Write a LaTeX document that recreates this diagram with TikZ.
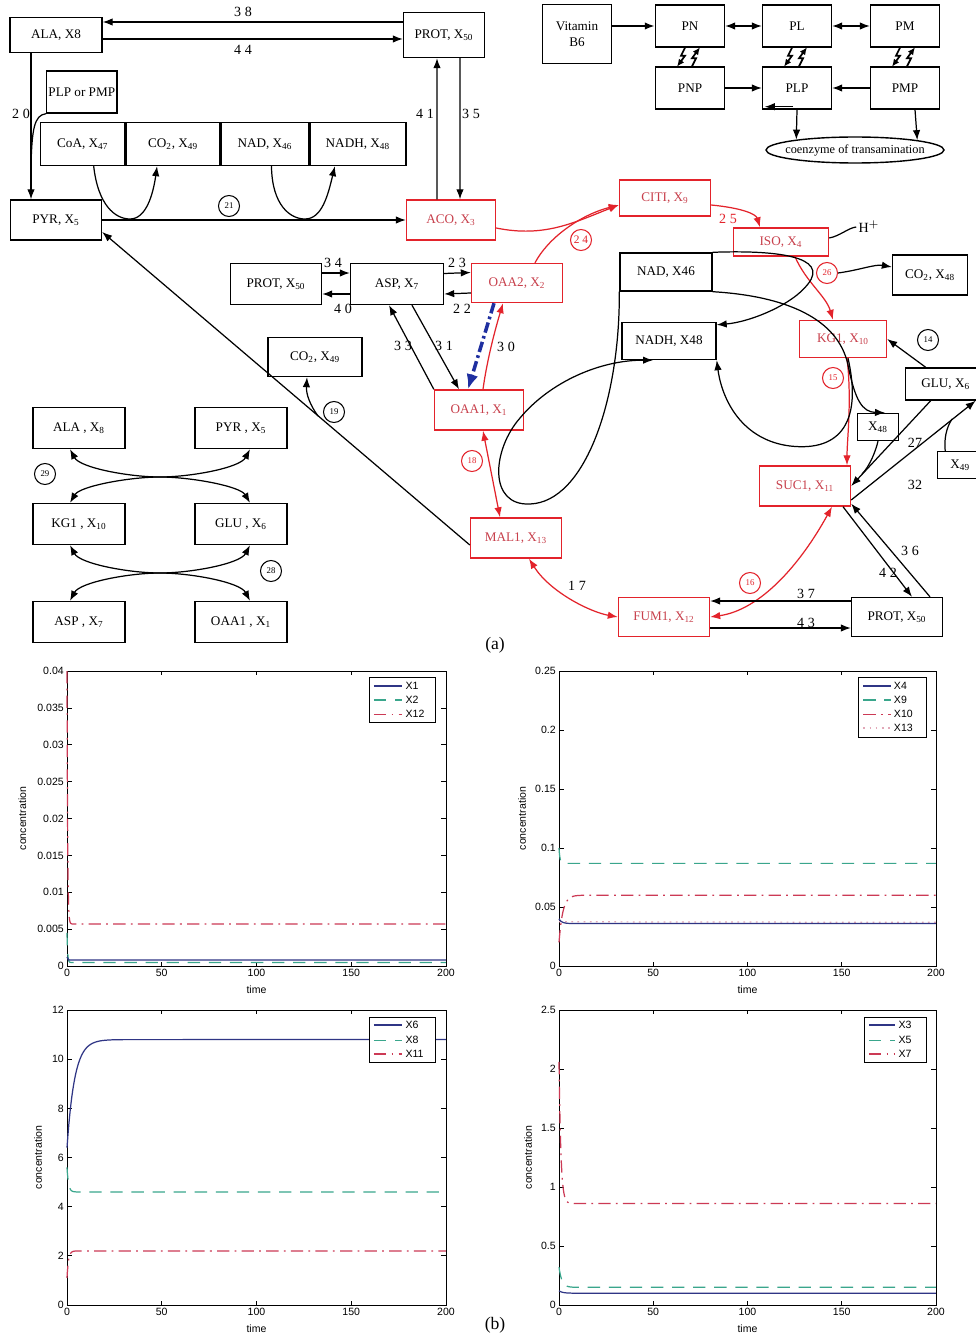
\documentclass[tikz,border=0pt]{standalone}
\usepackage{fontspec}
\setmainfont{Liberation Serif}
\setsansfont{Liberation Sans}
\usepackage{xcolor}
\usetikzlibrary{positioning, shapes.geometric, arrows.meta, calc}
\definecolor{rxn}{HTML}{E3232B}
\definecolor{rxntxt}{HTML}{C8404C}
\definecolor{flux}{HTML}{1F2FA0}
\definecolor{lnblue}{HTML}{2F3585}
\definecolor{lnteal}{HTML}{3AA68C}
\definecolor{lnred}{HTML}{CC3A55}
\definecolor{lnpink}{HTML}{E2A8B8}
\newcommand{\xs}[1]{X\textsubscript{#1}}

\tikzset{
  box/.style={draw, line width=0.8pt, minimum width=1.82cm, minimum height=0.8cm,
              inner sep=1pt, font=\fontsize{7.5}{9}\selectfont},
  rbox/.style={box, draw=rxn, text=rxntxt},
  arr/.style={-{Latex[length=2mm, width=1.5mm]}},
  darr/.style={{Latex[length=2mm, width=1.5mm]}-{Latex[length=2mm, width=1.5mm]}},
  rarr/.style={arr, draw=rxn},
  rdarr/.style={darr, draw=rxn},
  zap/.style={line width=1pt, -{Latex[length=1.5mm, width=1.3mm]}},
  lab/.style={font=\fontsize{8}{9}\selectfont, inner sep=1pt},
  rlab/.style={lab, text=rxn},
  cnum/.style={circle, draw, line width=0.6pt, inner sep=0pt, minimum size=0.42cm,
               font=\fontsize{5}{5}\selectfont},
  rcnum/.style={cnum, draw=rxn, text=rxn},
  ticklab/.style={font=\fontsize{6}{7}\sffamily, inner sep=1.5pt},
  sA/.style={lnblue, line width=0.7pt},
  sB/.style={lnteal, line width=0.7pt, dash pattern=on 7pt off 5pt},
  sC/.style={lnred, line width=0.7pt, dash pattern=on 7pt off 3pt on 1pt off 3pt},
  sD/.style={lnpink, line width=0.7pt, dash pattern=on 1pt off 2.5pt},
}

% frame of one time plot, #1 = y ticks as value/label
\newcommand{\axesframe}[1]{%
  \draw[line width=0.5pt] (0,0) rectangle (200,1);
  \foreach \t in {0,50,100,150,200} {
    \draw[line width=0.4pt] (\t,0) -- (\t,0.012) (\t,1) -- (\t,0.988);
    \node[ticklab, below] at (\t,0) {\t};
  }
  \foreach \v/\l in {#1} {
    \draw[line width=0.4pt] (0,\v) -- (2.5,\v) (200,\v) -- (197.5,\v);
    \node[ticklab, left] at (0,\v) {\l};
  }
}

\begin{document}
\begin{tikzpicture}[x=0.02cm, y=-0.02cm, line width=0.7pt]
  \useasboundingbox (0,0) rectangle (975,1338);
  \fill[white] (0,0) rectangle (975,1338);

  % ---------------- pyruvate / acetyl-CoA part
  \node[box, minimum width=1.84cm, minimum height=0.7cm] (ala) at (56,35) {ALA, X8};
  \node[box, minimum width=1.62cm, minimum height=0.9cm] (prot1) at (444,35) {PROT, \xs{50}};
  \node[box, minimum width=1.4cm, minimum height=0.84cm, anchor=west] (plp0) at (46,92) {PLP or PMP};
  \node[box, minimum width=1.68cm, minimum height=0.86cm, anchor=west] (coa) at (40,144) {CoA, \xs{47}};
  \node[box, minimum width=1.88cm, minimum height=0.86cm, right=0pt of coa] (co2a) {CO\textsubscript{2}, \xs{49}};
  \node[box, minimum width=1.74cm, minimum height=0.86cm, right=0pt of co2a] (nad1) {NAD, \xs{46}};
  \node[box, minimum width=1.92cm, minimum height=0.86cm, right=0pt of nad1] (nadh1) {NADH, \xs{48}};
  \node[box] (pyr1) at (56,220) {PYR, \xs{5}};
  \node[rbox, minimum width=1.78cm] (aco) at (451,220) {ACO, \xs{3}};

  \draw[arr] ([yshift=0.26cm]prot1.west) -- ([yshift=0.26cm]ala.east);
  \draw[arr] ([yshift=-0.08cm]ala.east) -- ([yshift=-0.08cm]prot1.west);
  \node[lab] at (243,12) {3 8};
  \node[lab] at (243,50) {4 4};

  \coordinate (j20) at (31,165);
  \draw[arr] ([xshift=-0.5cm]ala.south) -- ([xshift=-0.5cm]pyr1.north);
  \draw (plp0.south west) .. controls (34,115) and (32,130) .. (j20);
  \node[lab] at (21,114) {2 0};

  \draw[arr] (pyr1.east) -- (aco.west);
  \draw[arr] ([xshift=0.22cm]coa.south) .. controls (98,205) and (115,219) .. (130,219)
        .. controls (146,219) and (153,195) .. ([xshift=-0.32cm]co2a.south);
  \draw[arr] ([xshift=0.13cm]nad1.south) .. controls (272,205) and (290,219) .. (305,219)
        .. controls (322,219) and (328,195) .. ([xshift=-0.46cm]nadh1.south);
  \node[cnum, fill=white] (c21) at (229,206) {21};

  \draw[arr] ([xshift=-0.28cm]aco.north) -- ([xshift=-0.14cm]prot1.south);
  \draw[arr] ([xshift=0.32cm]prot1.south) -- ([xshift=0.18cm]aco.north);
  \node[lab] at (425,114) {4 1};
  \node[lab] at (471,114) {3 5};

  % ---------------- vitamin B6
  \node[box, minimum width=1.38cm, minimum height=1.18cm, align=center] (vitb) at (577,34) {Vitamin\\B6};
  \node[box, minimum width=1.38cm, minimum height=0.84cm] (pn) at (690,26) {PN};
  \node[box, minimum width=1.38cm, minimum height=0.84cm] (pl) at (797,26) {PL};
  \node[box, minimum width=1.38cm, minimum height=0.84cm] (pm) at (905,26) {PM};
  \node[box, minimum width=1.38cm, minimum height=0.84cm] (pnp) at (690,88) {PNP};
  \node[box, minimum width=1.38cm, minimum height=0.84cm] (plp) at (797,88) {PLP};
  \node[box, minimum width=1.38cm, minimum height=0.84cm] (pmp) at (905,88) {PMP};
  \node[draw, ellipse, line width=0.8pt, minimum width=3.56cm, minimum height=0.52cm,
        inner xsep=-0.6cm, inner ysep=0pt, font=\fontsize{7}{8}\selectfont] (coenz) at (855,150)
        {coenzyme of transamination};

  \draw[arr, line width=1.6pt] (vitb.east |- pn) -- (pn.west);
  \draw[darr] (pn) -- (pl);
  \draw[darr] (pl) -- (pm);
  \foreach \u/\d in {pn/pnp, pl/plp, pm/pmp} {
    \draw[zap] ([xshift=-0.1cm]\u.south) -- ++(-4,8) -- ++(4,0) -- ++(-8,11);
    \draw[zap] ([xshift=0.04cm]\d.north) -- ++(4,-8) -- ++(-4,0) -- ++(8,-11);
  }
  \draw[arr] (pnp) -- (plp);
  \draw[arr] (pmp) -- (plp);
  \draw[arr] ([xshift=-0.08cm, yshift=0.06cm]plp.south) -- ([xshift=0.06cm, yshift=0.06cm]plp.south west);
  \draw[arr] (plp.south) -- (coenz.170);
  \draw[arr] ([xshift=0.2cm]pmp.south) -- (coenz.9);

  % ---------------- TCA cycle
  \node[rbox, minimum height=0.72cm] (citi) at (665,198) {CITI, \xs{9}};
  \node[rbox, minimum width=1.9cm, minimum height=0.56cm] (iso) at (781,242) {ISO, \xs{4}};
  \node[box, minimum width=1.5cm] (co2c) at (930,275) {CO\textsubscript{2}, \xs{48}};
  \node[box, minimum width=1.84cm, minimum height=0.76cm] (nad2) at (666,272) {NAD, X46};
  \node[box, minimum width=1.88cm, minimum height=0.74cm] (nadh2) at (669,341) {NADH, X48};
  \node[rbox, minimum width=1.74cm, minimum height=0.74cm] (kg1) at (843,339) {KG1, \xs{10}};
  \node[box, minimum width=1.6cm, minimum height=0.64cm, anchor=west] (glu) at (905,384) {GLU, X\textsubscript{6}};
  \node[box, minimum width=0.82cm, minimum height=0.54cm] (x48) at (878,427) {\xs{48}};
  \node[box, minimum width=0.9cm, minimum height=0.54cm, anchor=west] (x49) at (937,465) {\xs{49}};
  \node[rbox] (suc) at (805,486) {SUC1, \xs{11}};
  \node[box, minimum height=0.78cm] (prot3) at (897,617) {PROT, \xs{50}};
  \node[rbox, minimum height=0.78cm] (fum) at (664,617) {FUM1, \xs{12}};
  \node[rbox] (mal) at (516,538) {MAL1, \xs{13}};
  \node[rbox, minimum width=1.78cm] (oaa1) at (479,410) {OAA1, \xs{1}};
  \node[rbox, minimum height=0.78cm] (oaa2) at (517,283) {OAA2, \xs{2}};
  \node[box, minimum width=1.86cm, minimum height=0.82cm] (asp) at (397,284) {ASP, \xs{7}};
  \node[box, minimum height=0.82cm] (prot2) at (276,284) {PROT, \xs{50}};
  \node[box, minimum width=1.88cm, minimum height=0.78cm] (co2b) at (315,357) {CO\textsubscript{2}, \xs{49}};
  \node[lab] (hplus) at (869,227) {H$^{+}$};

  % red reactions
  \draw[rarr] ([yshift=-0.16cm]aco.east) .. controls (545,238) and (575,222) .. ([yshift=-0.14cm]citi.west);
  \draw[rarr] ([xshift=0.36cm]oaa2.north) .. controls (548,238) and (580,215) .. ([yshift=-0.14cm]citi.west);
  \node[rcnum] (c24) at (581,240) {\fontsize{6.5}{7}\selectfont 2 4};
  \draw[rarr] ([yshift=-0.14cm]citi.east) .. controls (742,208) and (756,214) .. ([xshift=-0.42cm]iso.north);
  \node[rlab] at (728,219) {2 5};
  \draw ([yshift=0.08cm]iso.east) .. controls (840,236) and (848,228) .. (hplus.west);
  \draw[rarr] ([xshift=0.28cm]iso.south) .. controls (806,282) and (826,296) .. ([xshift=-0.2cm]kg1.north);
  \node[rcnum] (c26) at (827,273) {26};
  \draw[arr] (c26.east) .. controls (860,270) and (875,264) .. ([yshift=0.16cm]co2c.west);
  \draw[rarr] ([xshift=0.08cm]kg1.south) .. controls (852,400) and (847,440) .. ([xshift=0.84cm]suc.north);
  \node[rcnum] (c15) at (833,378) {15};
  \draw[rdarr] ([xshift=0.54cm]suc.south) .. controls (800,565) and (760,610) .. (fum.east);
  \node[rcnum] (c16) at (750,583) {16};
  \draw[rdarr] ([xshift=0.26cm]mal.south) .. controls (550,592) and (590,612) .. (fum.west);
  \node[lab] at (577,586) {1 7};
  \draw[rdarr] ([xshift=-0.32cm]mal.north) -- ([xshift=0.08cm]oaa1.south);
  \node[rcnum] (c18) at (472,461) {18};
  \draw[rarr] ([xshift=0.08cm]oaa1.north) .. controls (487,360) and (495,330) .. ([xshift=-0.28cm]oaa2.south);
  \node[lab] at (506,347) {3 0};
  \draw[flux, line width=2pt, dash pattern=on 6pt off 2pt on 1.5pt off 2pt,
        -{Latex[length=3mm, width=2.4mm]}] ([xshift=-0.46cm]oaa2.south) -- ([xshift=-0.22cm]oaa1.north);

  % aspartate exchange
  \draw[arr] ([yshift=0.22cm]prot2.east) -- ([yshift=0.22cm]asp.west);
  \draw[arr] ([yshift=-0.2cm]asp.west) -- ([yshift=-0.2cm]prot2.east);
  \draw[arr] ([yshift=0.21cm]asp.east) -- ([yshift=0.21cm]oaa2.west);
  \draw[arr] ([yshift=-0.2cm]oaa2.west) -- ([yshift=-0.2cm]asp.east);
  \node[lab] at (333,263) {3 4};
  \node[lab] at (343,309) {4 0};
  \node[lab] at (457,263) {2 3};
  \node[lab] at (462,309) {2 2};
  \draw[arr] (oaa1.north west) -- ([xshift=-0.16cm]asp.south);
  \draw[arr] ([xshift=0.3cm]asp.south) -- ([xshift=-0.4cm]oaa1.north);
  \node[lab] at (403,346) {3 3};
  \node[lab] at (444,346) {3 1};

  % malate back to pyruvate
  \coordinate (j19) at (318,416);
  \draw[arr] ([yshift=-0.14cm]mal.west) -- ([yshift=-0.24cm]pyr1.east);
  \draw[arr] (j19) .. controls (310,405) and (306,394) .. ([xshift=-0.16cm]co2b.south);
  \node[cnum] (c19) at (334,412) {19};

  % NAD / NADH couplings
  \draw[arr] (nad2.north east) .. controls (775,250) and (830,256) .. (808,284)
        .. controls (792,305) and (750,322) .. ([yshift=-0.06cm]nadh2.north east);
  \draw[arr] (nad2.south west) .. controls (620,400) and (585,502) .. (530,504)
        .. controls (488,506) and (492,450) .. (520,418)
        .. controls (550,382) and (600,360) .. ([xshift=-0.32cm]nadh2.south);
  \draw[arr] (nad2.south east) .. controls (785,296) and (838,318) .. (848,365)
        .. controls (855,400) and (862,412) .. ([xshift=0.14cm]x48.north);
  \draw[arr] ([xshift=0.1cm]kg1.south) .. controls (862,420) and (842,452) .. (790,446)
        .. controls (742,440) and (722,400) .. (nadh2.south east);

  % glutamate side
  \coordinate (j27) at (862,474);
  \coordinate (j32) at (952,419);
  \draw[arr] ([xshift=-0.4cm]glu.north) -- (kg1.east);
  \node[cnum] (c14) at (928,340) {14};
  \draw[arr] ([xshift=-0.3cm]glu.south) -- (suc.east);
  \draw[arr] ([yshift=-0.28cm]suc.east) -- ([xshift=0.6cm]glu.south);
  \draw (x48.south) .. controls (876,450) and (870,466) .. (j27);
  \draw ([xshift=-0.3cm]x49.north) .. controls (944,440) and (946,428) .. (j32);
  \node[lab] at (915,443) {27};
  \node[lab] at (915,485) {32};

  % protein exchange of succinate and fumarate
  \draw[arr] ([xshift=0.76cm]suc.south) -- ([xshift=0.3cm]prot3.north);
  \draw[arr] ([xshift=0.66cm]prot3.north) -- ([yshift=0.06cm]suc.south east);
  \node[lab] at (910,551) {3 6};
  \node[lab] at (888,573) {4 2};
  \draw[arr] ([yshift=0.32cm]prot3.west) -- ([yshift=0.32cm]fum.east);
  \draw[arr] ([yshift=-0.22cm]fum.east) -- ([yshift=-0.22cm]prot3.west);
  \node[lab] at (806,594) {3 7};
  \node[lab] at (806,623) {4 3};

  % ---------------- transamination pairs
  \node[box, minimum width=1.84cm, minimum height=0.82cm] (alaB) at (79,428) {ALA , \xs{8}};
  \node[box, minimum width=1.84cm, minimum height=0.82cm] (pyrB) at (241,428) {PYR , \xs{5}};
  \node[box, minimum width=1.84cm, minimum height=0.82cm] (kgB) at (79,524) {KG1 , \xs{10}};
  \node[box, minimum width=1.84cm, minimum height=0.82cm] (gluB) at (241,524) {GLU , \xs{6}};
  \node[box, minimum width=1.84cm, minimum height=0.82cm] (aspB) at (79,622) {ASP , \xs{7}};
  \node[box, minimum width=1.84cm, minimum height=0.82cm] (oaaB) at (241,622) {OAA1 , \xs{1}};

  \draw[darr] ([xshift=-0.18cm]alaB.south) .. controls (80,468) and (130,477) .. (160,477)
        .. controls (190,477) and (240,486) .. ([xshift=0.18cm]gluB.north);
  \draw[darr] ([xshift=-0.18cm]kgB.north) .. controls (80,486) and (130,477) .. (160,477)
        .. controls (190,477) and (240,468) .. ([xshift=0.18cm]pyrB.south);
  \draw[darr] ([xshift=-0.18cm]kgB.south) .. controls (80,564) and (130,573) .. (160,573)
        .. controls (190,573) and (240,582) .. ([xshift=0.18cm]oaaB.north);
  \draw[darr] ([xshift=-0.18cm]aspB.north) .. controls (80,582) and (130,573) .. (160,573)
        .. controls (190,573) and (240,564) .. ([xshift=0.18cm]gluB.south);
  \node[cnum] (c29) at (45,474) {29};
  \node[cnum] (c28) at (271,571) {28};

  \node[font=\fontsize{10}{12}\selectfont] at (495,645) {(a)};
  \node[font=\fontsize{10}{12}\selectfont] at (495,1325) {(b)};

  % ---------------- simulated concentrations
  \begin{scope}[shift={(67,966)}, x=0.0379cm, y=5.9cm]
    \axesframe{0/0, 0.125/0.005, 0.25/0.01, 0.375/0.015, 0.5/0.02, 0.625/0.025, 0.75/0.03, 0.875/0.035, 1/0.04}
    \node[ticklab, rotate=90] at (-23.5,0.5) {concentration};
    \node[ticklab] at (100,-0.08) {time};
    \draw[sC] plot[domain=0:6, samples=50] (\x, {0.1425+0.8575*exp(-3*\x)}) -- (200,0.1425);
    \draw[sB] plot[domain=0:4, samples=30] (\x, {0.012+0.1*exp(-3*\x)}) -- (200,0.012);
    \draw[sA] (0,0.03) -- (1,0.02) -- (200,0.02);
    \draw[line width=0.5pt, fill=white] (159.5,0.98) rectangle (194.2,0.827);
    \foreach \yy/\sty/\nm in {0.949/sA/X1, 0.902/sB/X2, 0.854/sC/X12} {
      \draw[\sty] (162,\yy) -- (177,\yy);
      \node[ticklab, anchor=west] at (177,\yy) {\nm};
    }
  \end{scope}

  \begin{scope}[shift={(559,966)}, x=0.0377cm, y=5.9cm]
    \axesframe{0/0, 0.2/0.05, 0.4/0.1, 0.6/0.15, 0.8/0.2, 1/0.25}
    \node[ticklab, rotate=90] at (-19.6,0.5) {concentration};
    \node[ticklab] at (100,-0.08) {time};
    \draw[sB] plot[domain=0:5, samples=30] (\x, {0.348+0.052*exp(-2*\x)}) -- (200,0.348);
    \draw[sC] plot[domain=0:15, samples=40] (\x, {0.24-0.16*exp(-\x/2)}) -- (200,0.24);
    \draw[sD] (0,0.15) -- (200,0.148);
    \draw[sA] plot[domain=0:8, samples=30] (\x, {0.144+0.016*exp(-\x/1.5)}) -- (200,0.144);
    \draw[line width=0.5pt, fill=white] (158.7,0.98) rectangle (195.2,0.776);
    \foreach \yy/\sty/\nm in {0.949/sA/X4, 0.902/sB/X9, 0.854/sC/X10, 0.807/sD/X13} {
      \draw[\sty] (161.5,\yy) -- (176,\yy);
      \node[ticklab, anchor=west] at (176,\yy) {\nm};
    }
  \end{scope}

  \begin{scope}[shift={(67,1305)}, x=0.0379cm, y=5.9cm]
    \axesframe{0/0, 0.1667/2, 0.3333/4, 0.5/6, 0.6667/8, 0.8333/10, 1/12}
    \node[ticklab, rotate=90] at (-15.3,0.5) {concentration};
    \node[ticklab] at (100,-0.08) {time};
    \draw[sA] plot[domain=0:30, samples=60] (\x, {(10.8-4.4*exp(-\x/4))/12}) -- (200,0.9);
    \draw[sB] plot[domain=0:6, samples=30] (\x, {(4.6+1.0*exp(-\x/0.8))/12}) -- (200,0.3833);
    \draw[sC] plot[domain=0:6, samples=30] (\x, {(2.2-1.1*exp(-\x/0.8))/12}) -- (200,0.1833);
    \draw[line width=0.5pt, fill=white] (159.5,0.976) rectangle (194.2,0.824);
    \foreach \yy/\sty/\nm in {0.949/sA/X6, 0.898/sB/X8, 0.851/sC/X11} {
      \draw[\sty] (162,\yy) -- (177,\yy);
      \node[ticklab, anchor=west] at (177,\yy) {\nm};
    }
  \end{scope}

  \begin{scope}[shift={(559,1305)}, x=0.0377cm, y=5.9cm]
    \axesframe{0/0, 0.2/0.5, 0.4/1, 0.6/1.5, 0.8/2, 1/2.5}
    \node[ticklab, rotate=90] at (-16.4,0.5) {concentration};
    \node[ticklab] at (100,-0.08) {time};
    \draw[sC] plot[domain=0:10, samples=50] (\x, {(0.86+1.2*exp(-\x))/2.5}) -- (200,0.344);
    \draw[sB] plot[domain=0:10, samples=30] (\x, {(0.15+0.17*exp(-\x/1.5))/2.5}) -- (200,0.06);
    \draw[sA] plot[domain=0:10, samples=30] (\x, {(0.1+0.02*exp(-\x/2))/2.5}) -- (200,0.04);
    \draw[line width=0.5pt, fill=white] (162,0.976) rectangle (195.2,0.824);
    \foreach \yy/\sty/\nm in {0.949/sA/X3, 0.898/sB/X5, 0.851/sC/X7} {
      \draw[\sty] (164.5,\yy) -- (178.5,\yy);
      \node[ticklab, anchor=west] at (178.5,\yy) {\nm};
    }
  \end{scope}
\end{tikzpicture}
\end{document}
